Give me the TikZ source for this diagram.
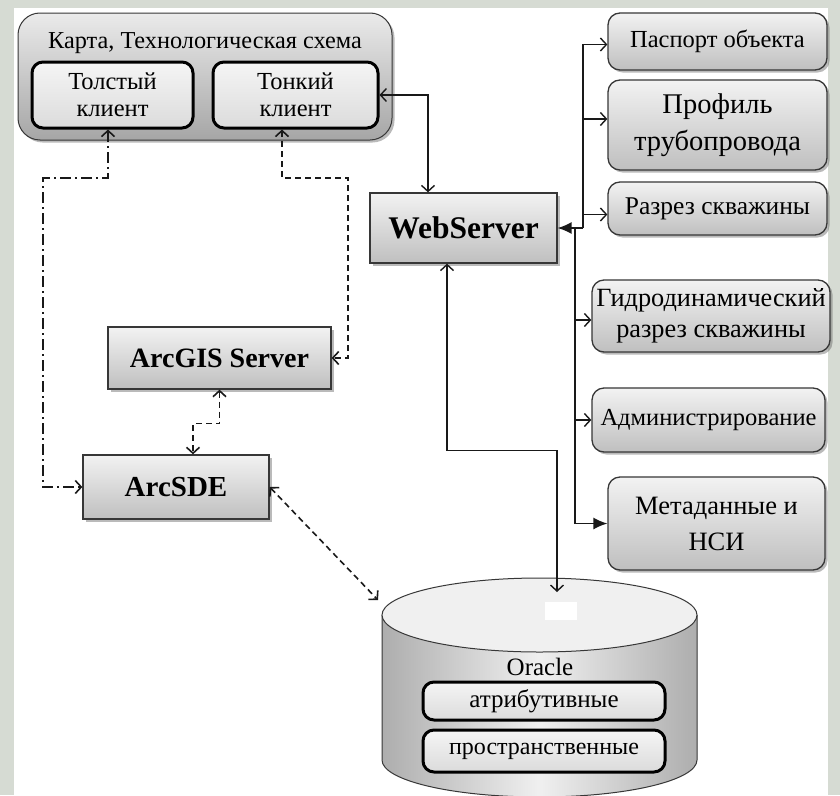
\documentclass[tikz,border=0pt]{standalone}
\usepackage{fontspec}
\setmainfont{Liberation Serif}
\usetikzlibrary{arrows.meta,shadows,calc}
\definecolor{bgc}{RGB}{214,219,211}
\definecolor{edge}{RGB}{55,55,55}
\begin{document}
\begin{tikzpicture}[x=1pt,y=-1pt,
  shd/.style={drop shadow={shadow xshift=2.5pt,shadow yshift=-2.5pt,opacity=0.45,fill=black!60}},
  sqbox/.style={shd,draw=edge,line width=1.3pt,top color=white!95!black,bottom color=black!25,align=center,inner sep=0pt,text=black},
  rbox/.style={sqbox,rounded corners=12pt},
  outerbox/.style={shd,draw=edge,line width=1pt,rounded corners=22pt,top color=black!8,bottom color=black!35},
  client/.style={draw=black,line width=3pt,rounded corners=11pt,top color=white!96!black,bottom color=black!14,align=center,inner sep=0pt},
  conn/.style={line width=1.4pt,draw=black!90,>={Straight Barb[length=6pt,width=13pt]}},
  dconn/.style={conn,line width=1.6pt,dash pattern=on 6pt off 4pt},
  ddconn/.style={conn,line width=1.6pt,dash pattern=on 11pt off 4pt on 2pt off 4pt},
  fill arrow/.style={-{Latex[length=14pt,width=12pt]}}
]
% background
\fill[bgc] (0,0) rectangle (840,795);
\fill[white] (14,8) rectangle (828,795);
\useasboundingbox (0,0) rectangle (840,795);

% top group
\node[outerbox,minimum width=374pt,minimum height=127pt] (outer) at (205,76.5) {};
\node[font=\fontsize{24.3}{27}\selectfont] (title) at (205,43) {Карта, Технологическая схема};
\node[client,minimum width=161pt,minimum height=66pt,font=\fontsize{24.5}{27}\selectfont] (thick) at (112.5,95) {Толстый\\клиент};
\node[client,minimum width=165pt,minimum height=66pt,font=\fontsize{24.5}{27}\selectfont] (thin) at (295.5,95) {Тонкий\\клиент};

% servers
\node[sqbox,minimum width=187pt,minimum height=70pt,font=\bfseries\fontsize{31.5}{34}\selectfont] (web) at (463.5,228) {WebServer};
\node[sqbox,minimum width=223pt,minimum height=62pt,font=\bfseries\fontsize{28}{32}\selectfont] (arcgis) at (219.5,358) {ArcGIS Server};
\node[sqbox,minimum width=186pt,minimum height=64pt,font=\bfseries\fontsize{29}{32}\selectfont] (arcsde) at (176,487) {ArcSDE};

% right column
\node[rbox,minimum width=219pt,minimum height=57pt,font=\fontsize{24.5}{28}\selectfont] (pasp) at (717.5,41.5) {Паспорт объекта};
\node[rbox,minimum width=219pt,minimum height=90pt,font=\fontsize{28.5}{37}\selectfont] (prof) at (717.5,125) {Профиль\\трубопровода};
\node[rbox,minimum width=219pt,minimum height=53pt,font=\fontsize{25.5}{28}\selectfont] (razr) at (717.5,208.5) {Разрез скважины};
\node[rbox,minimum width=238pt,minimum height=72pt,font=\fontsize{26.3}{31}\selectfont] (gidro) at (711,316) {Гидродинамический\\разрез скважины};
\node[rbox,minimum width=233pt,minimum height=64pt,font=\fontsize{24.5}{28}\selectfont] (admin) at (708.5,420) {Администрирование};
\node[rbox,minimum width=217pt,minimum height=93pt,font=\fontsize{26.5}{36}\selectfont] (meta) at (716.5,523.5) {Метаданные и\\НСИ};

% Oracle cylinder
\shade[left color=black!32,right color=black!32,middle color=white!94!black]
  (382,615) -- (382,760) arc[start angle=180,end angle=360,x radius=157.5pt,y radius=37pt] -- (697,615) -- cycle;
\draw[edge,line width=1pt] (382,615) -- (382,760) arc[start angle=180,end angle=360,x radius=157.5pt,y radius=37pt] -- (697,615);
\draw[edge,line width=1pt,fill=white!94!black] (539.5,615) ellipse[x radius=157.5pt,y radius=37pt];
\fill[white] (545,602) rectangle (577,620);
\node[font=\fontsize{25}{28}\selectfont] (oracle) at (540,667) {Oracle};
\node[client,minimum width=242pt,minimum height=38pt,font=\fontsize{25}{28}\selectfont] (attr) at (544,701) {атрибутивные};
\node[client,minimum width=242pt,minimum height=42pt,font=\fontsize{24}{28}\selectfont] (spat) at (544,751) {пространственные};
\coordinate (orat) at (557,592);
\coordinate (orl) at (378,600);

% connectors
\draw[conn,<->] (thin.east) -| ([xshift=-35.5pt]web.north);
\coordinate (bus1) at (583,228);
\coordinate (bus2) at (575,228);
\draw[conn,->] (bus1) |- ([yshift=-3pt]pasp.west);
\draw[conn,->] (bus1) |- ([yshift=6pt]prof.west);
\draw[conn,->] (bus1 |- razr.west) ++(0,6) -- ([yshift=-6pt]razr.west);
\draw[conn,fill arrow] (bus1) -- (web.east);
\draw[conn,fill arrow] (bus2) |- (meta.west);
\draw[conn,->] (bus2 |- gidro.west) ++(0,4) -- ([yshift=-4pt]gidro.west);
\draw[conn,->] (bus2 |- admin.west) -- (admin.west);
\draw[conn,<->] ([xshift=-16.5pt]web.south) -- ++(0,187) -| (orat);

\coordinate (c1) at (348,178);
\coordinate (c2) at (43,178);
\draw[dconn,<->] ([xshift=-13.5pt]thin.south) |- (c1) |- (arcgis.east);
\draw[ddconn,<->] ([xshift=-4.5pt]thick.south) |- (c2) |- (arcsde.west);
\draw[dconn,<->] (arcgis.south) -- ++(0,34) -| ([xshift=17pt]arcsde.north);
\draw[dconn,<->] (arcsde.east) -- (orl);
\end{tikzpicture}
\end{document}
